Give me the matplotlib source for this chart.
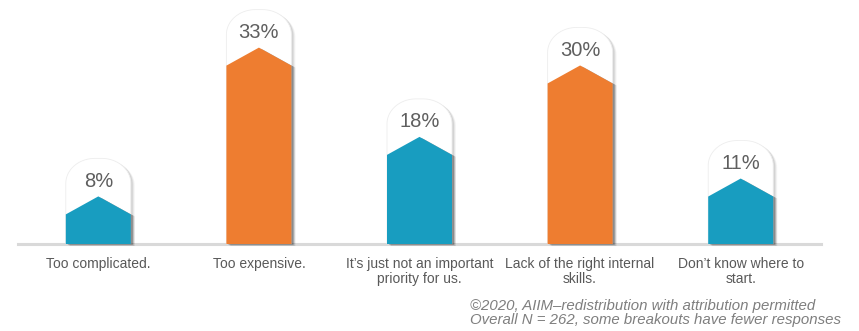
import numpy as np
import matplotlib.pyplot as plt
from matplotlib.patches import Polygon

plt.rcParams['font.family'] = ['Liberation Sans', 'DejaVu Sans']

categories = ['Too complicated.', 'Too expensive.',
              'It\u2019s just not an important\npriority for us.',
              'Lack of the right internal\nskills.',
              'Don\u2019t know where to\nstart.']
values = [8, 33, 18, 30, 11]
colors = ['#189DC0', '#EE7D30', '#189DC0', '#EE7D30', '#189DC0']
footnote = ('\u00a92020, AIIM\u2013redistribution with attribution permitted\n'
            'Overall N = 262, some breakouts have fewer responses')

W, H = 859, 331
fig = plt.figure(figsize=(W / 100, H / 100), dpi=100)
ax = fig.add_axes([18 / W, 87 / H, 803 / W, 244 / H])
ax.set_xlim(-0.5, 4.5)
ax.set_ylim(0, 41)
ax.axis('off')

# size of one pixel in data units
PX_X = 5 / 803
PX_Y = 41 / 244

half = 32.5 * PX_X
drop = 18 * PX_Y
cap = 38 * PX_Y
rx, ry = 29 * PX_X, 25 * PX_Y


def bubble(x, v):
    top = v + cap
    t = np.linspace(np.pi, np.pi / 2, 20)
    left = [(x - half + rx + rx * np.cos(a), top - ry + ry * np.sin(a)) for a in t]
    t = np.linspace(np.pi / 2, 0, 20)
    right = [(x + half - rx + rx * np.cos(a), top - ry + ry * np.sin(a)) for a in t]
    return [(x - half, 0)] + left + right + [(x + half, 0)]


def arrow(x, v):
    return [(x - half, 0), (x - half, v - drop), (x, v),
            (x + half, v - drop), (x + half, 0)]


def shifted(pts, dx, dy):
    return [(a + dx * PX_X, b + dy * PX_Y) for a, b in pts]


ax.axhline(0, color='#D9D9D9', lw=2.2, zorder=0, clip_on=False)

for i, (v, c) in enumerate(zip(values, colors)):
    b = bubble(i, v)
    for k, al in [(4, 0.04), (3, 0.06), (2, 0.08)]:
        ax.add_patch(Polygon(shifted(b, k, -k * 0.6), closed=True, fc='black',
                             ec='none', alpha=al, zorder=1))
    ax.add_patch(Polygon(b, closed=True, fc='white', ec='#EDEDED', lw=0.6, zorder=2))

    a = arrow(i, v)
    for k, al in [(4, 0.08), (3, 0.12), (2, 0.18)]:
        ax.add_patch(Polygon(shifted(a, k, -k * 0.5), closed=True, fc='black',
                             ec='none', alpha=al, zorder=3, clip_on=False))
    ax.add_patch(Polygon(a, closed=True, fc=c, ec='none', zorder=4))

    ax.text(i, v + 15 * PX_Y, f'{v}%', ha='center', va='center',
            fontsize=14.5, color='#5F5F5F', zorder=5)
    ax.text(i, -13 * PX_Y, categories[i], ha='center', va='top',
            fontsize=10, color='#595959', linespacing=1.05, clip_on=False)

fig.text(470 / W, 1 - 299 / H, footnote, ha='left', va='top', fontsize=10.8,
         style='italic', color='#7F7F7F', linespacing=1.0)

fig.savefig('out.png', dpi=100)
